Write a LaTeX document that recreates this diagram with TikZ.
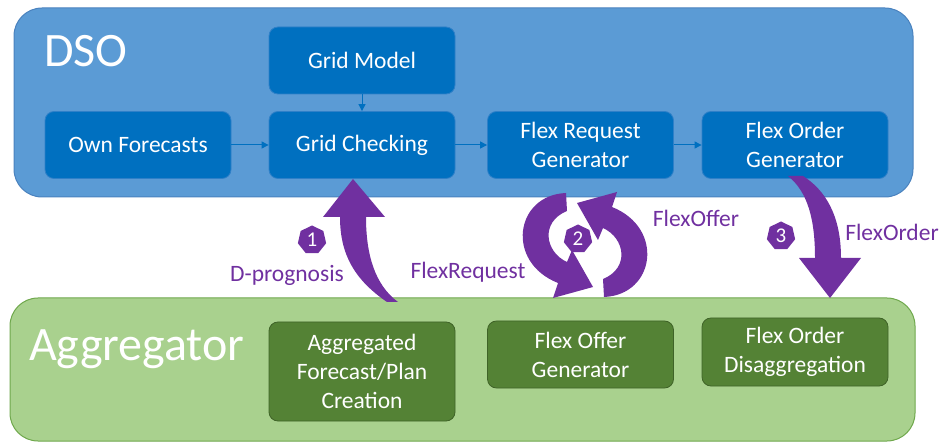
\documentclass[tikz,border=0pt]{standalone}
\usepackage{fontspec}
\setmainfont{Carlito}
\usetikzlibrary{shapes.geometric,arrows.meta}

\definecolor{dsofill}{HTML}{5B9BD5}
\definecolor{dsoline}{HTML}{4A82BE}
\definecolor{boxblue}{HTML}{0070C0}
\definecolor{boxblueline}{HTML}{2F80C8}
\definecolor{aggfill}{HTML}{A9D18E}
\definecolor{aggline}{HTML}{6FA84C}
\definecolor{boxgreen}{HTML}{548235}
\definecolor{boxgreenline}{HTML}{3F6328}
\definecolor{flexpurple}{HTML}{7030A0}

\tikzset{
  dsobox/.style = {draw = boxblueline, fill = boxblue, line width = 0.8pt, rounded corners = 9pt,
                   minimum width = 186pt, minimum height = 67pt, text = white, align = center,
                   font = \fontsize{23.5}{29}\selectfont},
  aggbox/.style = {dsobox, draw = boxgreenline, fill = boxgreen},
  flow/.style = {draw = boxblue, line width = 1pt, -{Triangle[length = 7pt, width = 7pt]}},
  badge/.style = {regular polygon, regular polygon sides = 7, fill = flexpurple, text = white,
                  minimum size = 29pt, inner sep = 0pt, font = \fontsize{21}{21}\selectfont},
  flexlabel/.style = {text = flexpurple, anchor = base, font = \fontsize{23.5}{28}\selectfont}
}

\begin{document}
\begin{tikzpicture}[x = 1pt, y = -1pt]
                          \useasboundingbox (0,0) rectangle (942,443);
                          \draw [fill = dsofill, draw = dsoline, line width = 1pt, rounded corners = 28pt](14,8) rectangle (913,197);
                          \draw [fill = aggfill, draw = aggline, line width = 1pt, rounded corners = 28pt](10,298) rectangle (915,441);
                          \node (dso)[anchor = base west, text = white, font = \fontsize{48}{48}\selectfont, inner sep = 0pt] at (44,67) {DSO};
                          \node (agg)[anchor = base west, text = white, font = \fontsize{48}{48}\selectfont, inner sep = 0pt] at (29,360) {Aggregator};
                          \node (gridmodel)[dsobox] at (362,60.5) {Grid Model};
                          \node (ownfc)[dsobox] at (138,145) {Own Forecasts};
                          \node (gridcheck)[dsobox] at (362,145) {Grid Checking};
                          \node (reqgen)[dsobox] at (580.5,145) {Flex Request\\Generator};
                          \node (ordgen)[dsobox] at (795,145) {Flex Order\\Generator};
                          \node (aggfc)[aggbox, minimum height = 99pt] at (362,371.5) {Aggregated\\Forecast/Plan\\Creation};
                          \node (offgen)[aggbox] at (580.5,354.5) {Flex Offer\\Generator};
                          \node (orddis)[aggbox, minimum height = 68pt] at (795,352) {Flex Order\\Disaggregation};
                          \draw [flow](gridmodel)--(gridcheck);
                          \draw [flow](ownfc)--(gridcheck);
                          \draw [flow](gridcheck)--(reqgen);
                          \draw [flow](reqgen)--(ordgen);
                          \fill [flexpurple](387,302) .. controls (355,280) and (340,255) .. (340,217)--(323,217)--(353,179)--(385,217)--(366,217) .. controls (366,255) and (375,285) .. (398,302)--cycle;
                          \fill [flexpurple](566,193) .. controls (515,195) and (505,262) .. (558,283)--(553,298)--(593,287)--(572,250)--(567,262) .. controls (545,252) and (540,222) .. (567,211)--cycle;
                          \fill [flexpurple, rotate around = {180:(585,245)}](566,193) .. controls (515,195) and (505,262) .. (558,283)--(553,298)--(593,287)--(572,250)--(567,262) .. controls (545,252) and (540,222) .. (567,211)--cycle;
                          \fill [flexpurple](788,176) .. controls (808,192) and (815,220) .. (815,258)--(799,258)--(830,298)--(861,258)--(841,258) .. controls (841,215) and (825,190) .. (803,176)--cycle;
                          \node (one)[badge] at (312,240) {1};
                          \node (two)[badge] at (578,239) {2};
                          \node (three)[badge] at (781,236) {3};
                          \node (dprog)[flexlabel] at (287,282) {D-prognosis};
                          \node (flexreq)[flexlabel] at (468,279) {FlexRequest};
                          \node (flexoff)[flexlabel] at (696,227) {FlexOffer};
                          \node (flexord)[flexlabel] at (892,241) {FlexOrder};
                        \end{tikzpicture}
\end{document}
